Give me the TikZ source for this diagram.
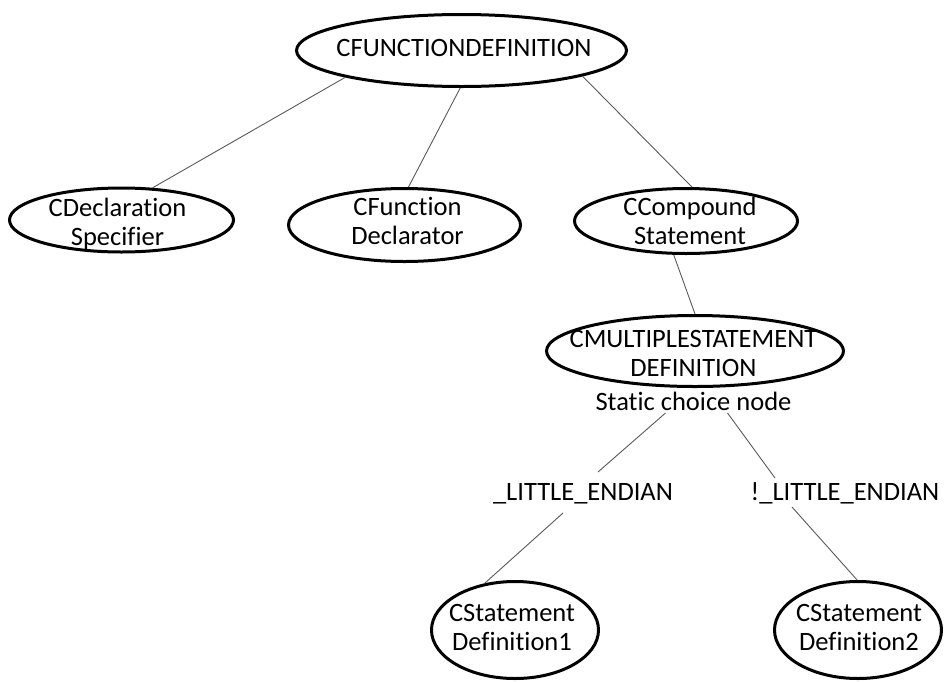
\documentclass[tikz,border=0pt]{standalone}
\usepackage{fontspec}
\setmainfont{Carlito}[Ligatures=NoCommon]
\usetikzlibrary{shapes.geometric}
\tikzset{
  oval/.style={ellipse, draw=black, line width=3pt, inner sep=0pt},
  txt/.style={font=\fontsize{26.5}{29}\selectfont, align=center, inner sep=0pt},
  link/.style={draw=black!65, line width=0.9pt},
}
\begin{document}
\begin{tikzpicture}[x=1pt, y=-1pt]
\useasboundingbox (0,0) rectangle (951,681);

% tree nodes (outlines)
\node[oval, minimum width=330pt, minimum height=72pt] (top) at (461.5,50.5) {};
\node[oval, minimum width=224pt, minimum height=64pt] (decl) at (121.5,220) {};
\node[oval, minimum width=232pt, minimum height=73pt] (fdecl) at (404.5,225) {};
\node[oval, minimum width=223pt, minimum height=65pt] (comp) at (686,221) {};
\node[oval, minimum width=297pt, minimum height=71pt] (multi) at (695,351) {};
\node[oval, minimum width=167pt, minimum height=97pt] (cs1) at (515,630) {};
\node[oval, minimum width=167pt, minimum height=97pt] (cs2) at (858,630) {};

% node texts
\node[txt] (topT) at (464,50.2) {CFUNCTIONDEFINITION\strut};
\node[txt] (declT) at (117.5,224.7) {CDeclaration\strut\\Specifier\strut};
\node[txt] (fdeclT) at (407.5,224.4) {CFunction\strut\\Declarator\strut};
\node[txt] (compT) at (690,223.7) {CCompound\strut\\Statement\strut};
\node[txt] (multiT) at (693.5,356.4) {CMULTIPLESTATEMENT\strut\\DEFINITION\strut};
\node[txt] (cs1T) at (512,630.4) {CStatement\strut\\Definition1\strut};
\node[txt] (cs2T) at (859,630.4) {CStatement\strut\\Definition2\strut};

% free-standing captions
\node[txt, anchor=base] (static) at (693.5,410) {Static choice node};
\node[txt, anchor=base] (le) at (583,500) {\_LITTLE\_ENDIAN};
\node[txt, anchor=base] (nle) at (845,500) {!\_LITTLE\_ENDIAN};

% connectors
\draw[link] (top.-167) -- (decl.46.3);
\draw[link] (top.-92.2) -- (fdecl.84.7);
\draw[link] (top.-12.75) -- (comp.80);
\draw[link] (comp.-110.4) -- (multi.90);
\draw[link] ([shift={(-28,3)}]static.base) -- ([shift={(15,-28)}]le.base);
\draw[link] ([shift={(34,3)}]static.base) -- ([shift={(-70,-22)}]nle.base);
\draw[link] ([shift={(-20,13)}]le.base) -- (cs1.123.7);
\draw[link] ([shift={(-53,7)}]nle.base) -- (cs2.91);
\end{tikzpicture}
\end{document}
